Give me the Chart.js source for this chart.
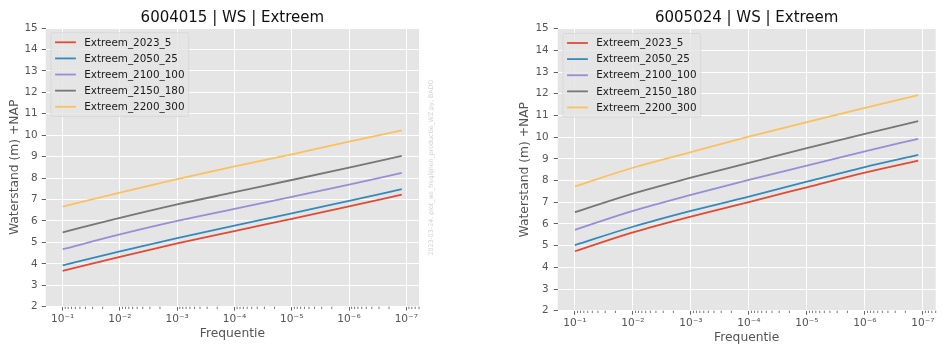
<!DOCTYPE html>
<html>
<head>
<meta charset="utf-8">
<script src="https://cdn.jsdelivr.net/npm/chart.js@4.4.1/dist/chart.umd.min.js"></script>
<style>
  html, body { margin: 0; padding: 0; background: #ffffff; width: 944px; height: 347px; overflow: hidden; }
  canvas { position: absolute; top: 0; }
</style>
</head>
<body>
<canvas id="st6004015" width="470" height="347" style="left:0px"></canvas>
<canvas id="st6005024" width="474" height="347" style="left:470px"></canvas>
<script>
// Exceedance frequency (per year) of the computed points
const FREQ = [1e-1, 1e-2, 1e-3, 1e-4, 1e-5, 1e-6, 1.2e-7];

// Scenario names and colours
const SCENARIOS = ['Extreem_2023_5', 'Extreem_2050_25', 'Extreem_2100_100', 'Extreem_2150_180', 'Extreem_2200_300'];
const COLORS = ['#E24A33', '#348ABD', '#988ED5', '#777777', '#FBC15E'];

// Water levels (m +NAP), location 6004015
const ws6004015_2023_5   = [3.67, 4.32, 4.95, 5.53, 6.10, 6.68, 7.23];
const ws6004015_2050_25  = [3.93, 4.58, 5.20, 5.78, 6.35, 6.94, 7.48];
const ws6004015_2100_100 = [4.68, 5.37, 6.00, 6.56, 7.12, 7.69, 8.24];
const ws6004015_2150_180 = [5.47, 6.14, 6.77, 7.34, 7.91, 8.49, 9.03];
const ws6004015_2200_300 = [6.67, 7.32, 7.95, 8.54, 9.11, 9.70, 10.23];

// Water levels (m +NAP), location 6005024
const ws6005024_2023_5   = [4.74, 5.61, 6.34, 7.01, 7.69, 8.37, 8.92];
const ws6005024_2050_25  = [5.02, 5.87, 6.60, 7.26, 7.95, 8.62, 9.18];
const ws6005024_2100_100 = [5.73, 6.60, 7.34, 8.03, 8.69, 9.35, 9.92];
const ws6005024_2150_180 = [6.54, 7.40, 8.13, 8.82, 9.49, 10.15, 10.74];
const ws6005024_2200_300 = [7.73, 8.59, 9.31, 10.02, 10.69, 11.35, 11.94];

// Axis ticks
const LEVEL_TICKS = [2, 3, 4, 5, 6, 7, 8, 9, 10, 11, 12, 13, 14, 15];
const DECADE_EXPONENTS = [-1, -2, -3, -4, -5, -6, -7];

const FONT = '"DejaVu Sans", "Liberation Sans", sans-serif';
Chart.defaults.font.family = FONT;

const SUPERSCRIPT = { '-': '\u207B', '0': '\u2070', '1': '\u00B9', '2': '\u00B2', '3': '\u00B3',
  '4': '\u2074', '5': '\u2075', '6': '\u2076', '7': '\u2077', '8': '\u2078', '9': '\u2079' };
const powerLabel = e => '10' + String(e).split('').map(c => SUPERSCRIPT[c]).join('');

// log axis limits with a 5% margin on both sides (in decades)
const lo = Math.log10(Math.min(...FREQ)), hi = Math.log10(Math.max(...FREQ));
const margin = 0.05 * (hi - lo);
const X_MIN = Math.pow(10, lo - margin), X_MAX = Math.pow(10, hi + margin);

// minor ticks 2..9 x 10^k
const MINOR_TICKS = [];
for (let k = -8; k <= 0; k++) for (let m = 2; m <= 9; m++) MINOR_TICKS.push(m * Math.pow(10, k));

// grey panel behind the plot
const panel = {
  id: 'panel',
  beforeDraw(chart) {
    const { ctx, chartArea: a } = chart;
    ctx.save();
    ctx.fillStyle = '#E5E5E5';
    ctx.fillRect(a.left, a.top, a.right - a.left, a.bottom - a.top);
    ctx.restore();
  }
};

// short minor tick marks under the frequency axis
const minorTicks = {
  id: 'minorTicks',
  afterDraw(chart) {
    const sx = chart.scales.x, ctx = chart.ctx;
    ctx.save();
    ctx.strokeStyle = '#555555';
    ctx.lineWidth = 0.8;
    for (const v of MINOR_TICKS) {
      if (v < sx.min || v > sx.max) continue;
      const px = sx.getPixelForValue(v);
      ctx.beginPath();
      ctx.moveTo(px, sx.top);
      ctx.lineTo(px, sx.top + 2.3);
      ctx.stroke();
    }
    ctx.restore();
  }
};

// title centred over the plot area
const plotTitle = {
  id: 'plotTitle',
  afterDraw(chart, args, opts) {
    const { ctx, chartArea: a } = chart;
    ctx.save();
    ctx.font = `${opts.size}px ${FONT}`;
    ctx.fillStyle = '#111111';
    ctx.textAlign = 'center';
    ctx.textBaseline = 'alphabetic';
    ctx.fillText(opts.text, (a.left + a.right) / 2, opts.baseline);
    ctx.restore();
  }
};

// framed legend in the upper-left corner of the plot
const framedLegend = {
  id: 'framedLegend',
  afterDatasetsDraw(chart, args, opts) {
    const { ctx, chartArea: a } = chart;
    const fs = opts.fontSize;
    const sets = chart.data.datasets;
    ctx.save();
    ctx.font = `${fs}px ${FONT}`;
    const textW = Math.max(...sets.map(d => ctx.measureText(d.label).width));
    const pad = 0.4 * fs, handle = 2 * fs, gap = 0.8 * fs;
    const textH = 1.05 * fs, spacing = 0.5 * fs;
    const x0 = a.left + 0.5 * fs, y0 = a.top + 0.45 * fs;
    const w = pad + handle + gap + textW + pad;
    const h = 2 * pad + sets.length * textH + (sets.length - 1) * spacing;
    const r = 0.2 * fs;
    ctx.beginPath();
    ctx.moveTo(x0 + r, y0);
    ctx.lineTo(x0 + w - r, y0);
    ctx.quadraticCurveTo(x0 + w, y0, x0 + w, y0 + r);
    ctx.lineTo(x0 + w, y0 + h - r);
    ctx.quadraticCurveTo(x0 + w, y0 + h, x0 + w - r, y0 + h);
    ctx.lineTo(x0 + r, y0 + h);
    ctx.quadraticCurveTo(x0, y0 + h, x0, y0 + h - r);
    ctx.lineTo(x0, y0 + r);
    ctx.quadraticCurveTo(x0, y0, x0 + r, y0);
    ctx.closePath();
    ctx.fillStyle = 'rgba(229,229,229,0.8)';
    ctx.fill();
    ctx.strokeStyle = 'rgba(214,214,214,0.8)';
    ctx.lineWidth = 1;
    ctx.stroke();
    ctx.textAlign = 'left';
    ctx.textBaseline = 'middle';
    sets.forEach((d, i) => {
      const cy = y0 + pad + textH / 2 + i * (textH + spacing);
      ctx.strokeStyle = d.borderColor;
      ctx.lineWidth = d.borderWidth;
      ctx.beginPath();
      ctx.moveTo(x0 + pad, cy);
      ctx.lineTo(x0 + pad + handle, cy);
      ctx.stroke();
      ctx.fillStyle = '#1a1a1a';
      ctx.fillText(d.label, x0 + pad + handle + gap, cy + 0.5);
    });
    ctx.restore();
  }
};

// faint vertical production stamp at the right of the first figure
const stamp = {
  id: 'stamp',
  afterDraw(chart, args, opts) {
    if (!opts.text) return;
    const ctx = chart.ctx;
    ctx.save();
    ctx.translate(opts.x, opts.y);
    ctx.rotate(-Math.PI / 2);
    ctx.font = `${opts.size}px ${FONT}`;
    ctx.fillStyle = '#d2d2d2';
    ctx.textAlign = 'center';
    ctx.textBaseline = 'middle';
    ctx.fillText(opts.text, 0, 0);
    ctx.restore();
  }
};

function buildChart(canvasId, title, seriesList, cfg) {
  const datasets = seriesList.map((vals, i) => ({
    label: SCENARIOS[i],
    data: FREQ.map((f, j) => ({ x: f, y: vals[j] })),
    borderColor: COLORS[i],
    backgroundColor: COLORS[i],
    borderWidth: 1.8,
    pointRadius: 0,
    cubicInterpolationMode: 'monotone',
    fill: false
  }));

  return new Chart(document.getElementById(canvasId), {
    type: 'line',
    data: { datasets },
    plugins: [panel, minorTicks, plotTitle, framedLegend, stamp],
    options: {
      responsive: false,
      animation: false,
      devicePixelRatio: 1,
      layout: { padding: { left: cfg.padL, right: cfg.padR, top: cfg.padT, bottom: 0 } },
      plugins: {
        legend: { display: false },
        tooltip: { enabled: false },
        plotTitle: { text: title, size: 15, baseline: cfg.titleBaseline },
        framedLegend: { fontSize: 10.4 },
        stamp: cfg.stamp || {}
      },
      scales: {
        x: {
          type: 'logarithmic',
          reverse: true,
          min: X_MIN,
          max: X_MAX,
          afterBuildTicks: s => { s.ticks = DECADE_EXPONENTS.map(e => ({ value: Math.pow(10, e) })); },
          afterFit: s => { s.height = cfg.xHeight; },
          ticks: {
            autoSkip: false,
            maxRotation: 0,
            color: '#555555',
            padding: 2,
            font: { size: 10.6 },
            callback: (v, i) => powerLabel(DECADE_EXPONENTS[i])
          },
          grid: { color: '#ffffff', lineWidth: 1, tickColor: '#555555', tickLength: 4, tickWidth: 0.9 },
          border: { display: false },
          title: { display: true, text: 'Frequentie', color: '#555555', font: { size: 12.3 },
                   padding: { top: 0, bottom: cfg.xTitlePad } }
        },
        y: {
          type: 'linear',
          min: 2,
          max: 15,
          afterBuildTicks: s => { s.ticks = LEVEL_TICKS.map(v => ({ value: v })); },
          afterFit: s => { s.width = cfg.yWidth; },
          ticks: { autoSkip: false, color: '#555555', padding: cfg.yTickPad, font: { size: 10.4 } },
          grid: { color: '#ffffff', lineWidth: 1, tickColor: '#555555', tickLength: 4, tickWidth: 0.9 },
          border: { display: false },
          title: { display: true, text: 'Waterstand (m) +NAP', color: '#555555', font: { size: 12.3 },
                   padding: { top: cfg.yTitlePad, bottom: 0 } }
        }
      }
    }
  });
}

buildChart('st6004015', '6004015 | WS | Extreem',
  [ws6004015_2023_5, ws6004015_2050_25, ws6004015_2100_100, ws6004015_2150_180, ws6004015_2200_300],
  { padL: 0, padR: 51, padT: 28, yWidth: 45.7, xHeight: 40.3, yTitlePad: 7, xTitlePad: 5.6,
    yTickPad: 4, titleBaseline: 21.5,
    stamp: { text: '2023-03-24, plot_ws_freqlijnen_productie_WZ.py, BADO', x: 431, y: 167.5, size: 6.3 } });

buildChart('st6005024', '6005024 | WS | Extreem',
  [ws6005024_2023_5, ws6005024_2050_25, ws6005024_2100_100, ws6005024_2150_180, ws6005024_2200_300],
  { padL: 40, padR: 8.3, padT: 28.7, yWidth: 47.7, xHeight: 36.3, yTitlePad: 7.6, xTitlePad: 2.1,
    yTickPad: 5, titleBaseline: 21.7 });
</script>
</body>
</html>
